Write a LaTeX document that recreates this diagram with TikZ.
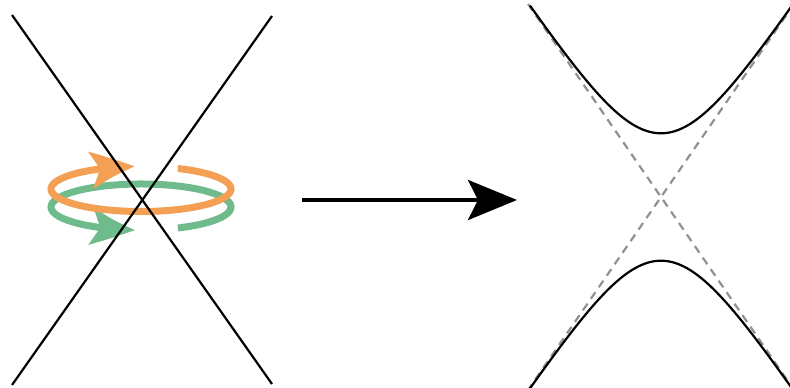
\documentclass[tikz,border=0pt]{standalone}
\usetikzlibrary{arrows.meta,bending,calc}
\definecolor{ringorange}{RGB}{243,160,84}
\definecolor{ringgreen}{RGB}{112,187,140}
\definecolor{asymgray}{RGB}{145,145,145}
\tikzset{
  crossline/.style={line width=2.2pt, black},
  ringo/.style={line width=7pt, ringorange, -{Stealth[length=46pt,width=36pt,inset=10pt,bend]}},
  ringg/.style={line width=7pt, ringgreen, -{Stealth[length=46pt,width=36pt,inset=10pt,bend]}},
  bigarrow/.style={line width=4pt, black, -{Stealth[length=49pt,width=40pt,inset=10pt]}},
  asym/.style={line width=2.2pt, asymgray, dash pattern=on 8pt off 6pt},
  hyper/.style={line width=2.2pt, black}
}
\begin{document}
\begin{tikzpicture}[x=1pt,y=1pt]
\useasboundingbox (0,0) rectangle (790,388);
\clip (0,0) rectangle (790,388);
% left crossing lines
\coordinate (l1a) at (12,373);
\coordinate (l1b) at (272,4);
\coordinate (l2a) at (272,372);
\coordinate (l2b) at (12,3);
% ring centres
\coordinate (oc) at (141,199);
\coordinate (gc) at (141,181);
% green ring (gap at the front)
\draw[ringg] ([shift={(-65.8:90 and 23)}]gc) arc[start angle=-65.8, end angle=266.2, x radius=90, y radius=23];
% orange ring (gap at the back)
\draw[ringo] ([shift={(425.8:90 and 22.5)}]oc) arc[start angle=425.8, end angle=94, x radius=90, y radius=22.5];
% crossing lines
\draw[crossline] (l1a) -- (l1b);
\draw[crossline] (l2a) -- (l2b);
% central arrow
\coordinate (as) at (302,188);
\coordinate (ae) at (517,188);
\draw[bigarrow] (as) -- (ae);
% right: asymptotes and hyperbola branches
\coordinate (hc) at (661,191);
\coordinate (d1a) at ($(hc)+(-133,193)$);
\coordinate (d1b) at ($(hc)+(133,-193)$);
\coordinate (d2a) at ($(hc)+(133,193)$);
\coordinate (d2b) at ($(hc)+(-133,-193)$);
\draw[asym] (d1a) -- (d1b);
\draw[asym] (d2a) -- (d2b);
\begin{scope}[shift={(hc)}]
\draw[hyper] plot[domain=-131:131, samples=120, smooth] (\x, {91.9*ln(2*cosh(0.01578*\x))});
\draw[hyper] plot[domain=-131:131, samples=120, smooth] (\x, {-91.9*ln(2*cosh(0.01578*\x))});
\end{scope}
\end{tikzpicture}
\end{document}
